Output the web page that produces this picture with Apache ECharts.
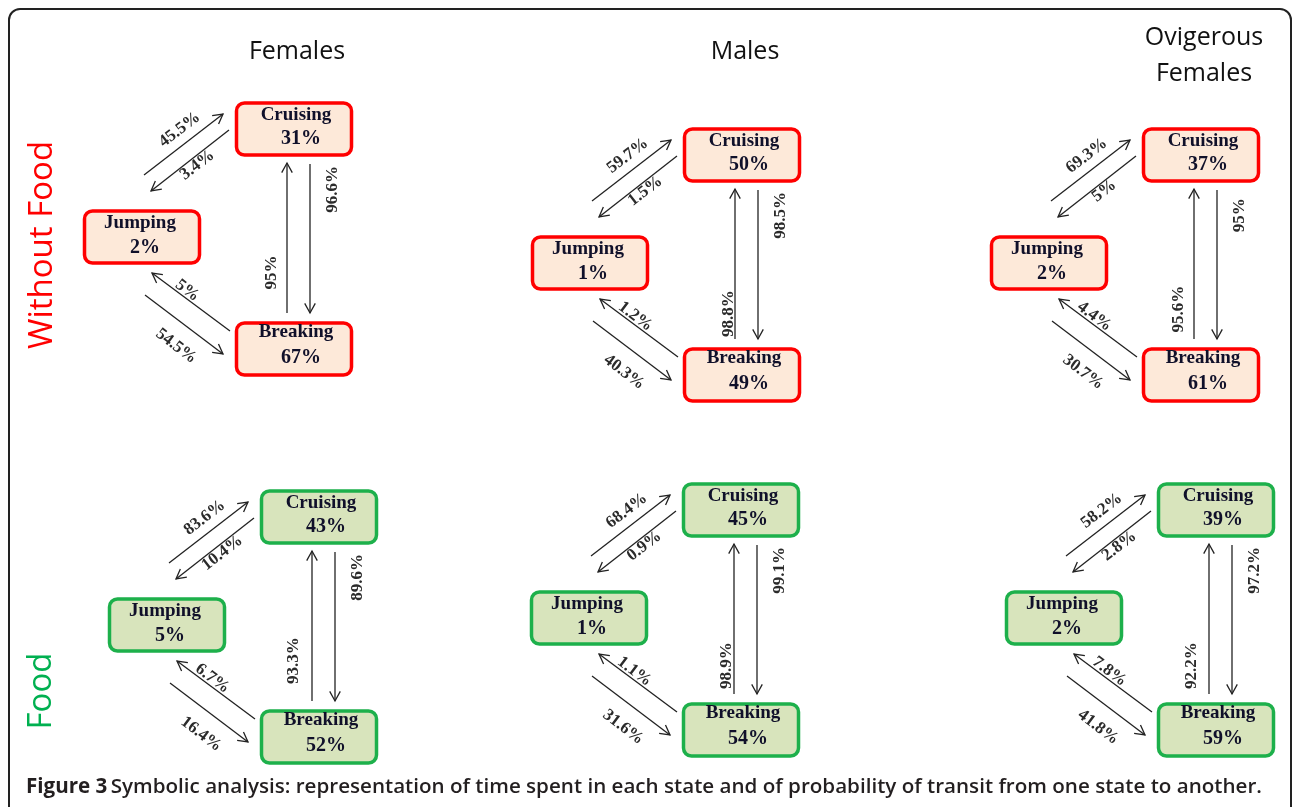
<!DOCTYPE html>
<html><head><meta charset="utf-8">
<script src="https://cdn.jsdelivr.net/npm/echarts@6/dist/echarts.min.js"></script>
<style>html,body{margin:0;padding:0;background:#fff}#c{width:1292px;height:807px}</style>
</head><body><div id="c"></div>
<script>
// ---------- data ----------
const columnTitles = ['Females', 'Males', 'Ovigerous\nFemales'];
const rowTitles = ['Without Food', 'Food'];
const stateNames = ['Cruising', 'Jumping', 'Breaking'];
// panel order: WithoutFood-Females, WithoutFood-Males, WithoutFood-Ovigerous, Food-Females, Food-Males, Food-Ovigerous
const cruisingTime = [31, 50, 37, 43, 45, 39];
const jumpingTime  = [2, 1, 2, 5, 1, 2];
const breakingTime = [67, 49, 61, 52, 54, 59];
const jumpToCruise  = [45.5, 59.7, 69.3, 83.6, 68.4, 58.2];
const cruiseToJump  = [3.4, 1.5, 5, 10.4, 0.9, 2.8];
const cruiseToBreak = [96.6, 98.5, 95, 89.6, 99.1, 97.2];
const breakToCruise = [95, 98.8, 95.6, 93.3, 98.9, 92.2];
const breakToJump   = [5, 1.2, 4.4, 6.7, 1.1, 7.8];
const jumpToBreak   = [54.5, 40.3, 30.7, 16.4, 31.6, 41.8];
const captionBold = 'Figure 3';
const captionText = 'Symbolic analysis: representation of time spent in each state and of probability of transit from one state to another.';

// ---------- layout (positions of each panel's Cruising box, chart units) ----------
const panelAnchor = [[294, 129], [742, 155], [1201, 155], [319, 517], [741, 510], [1216, 510]];
const jumpingShift = [-152, 108];
const breakingShift = [0, 220];
const upLabelOffset = [-15, -6, -15, -18, -7, -17];
const upLabelT = [0.27, 0.17, 0.2, 0.27, 0.19, 0.19];

// ---------- styles ----------
const RED = '#ff0000', RED_FILL = '#fde9d9';
const GREEN = '#1db04b', GREEN_FILL = '#d8e4bc';
const INK = '#222222';
const BOX_W = 115, BOX_H = 52;
const serif = '"Liberation Serif","Times New Roman",serif';
const sans = '"Open Sans","Noto Sans",sans-serif';

const pct = v => v + '%';

function arrowEls(p0, p1, label, t, off, rot) {
  const dx = p1[0] - p0[0], dy = p1[1] - p0[1];
  const len = Math.hypot(dx, dy);
  const ux = dx / len, uy = dy / len;
  const nx = -uy, ny = ux;
  const hl = 11, ha = 0.5;
  const ang = Math.atan2(uy, ux);
  const a1 = [p1[0] - hl * Math.cos(ang - ha), p1[1] - hl * Math.sin(ang - ha)];
  const a2 = [p1[0] - hl * Math.cos(ang + ha), p1[1] - hl * Math.sin(ang + ha)];
  const lx = p0[0] + dx * t + nx * off, ly = p0[1] + dy * t + ny * off;
  return [
    { type: 'line', shape: { x1: p0[0], y1: p0[1], x2: p1[0], y2: p1[1] },
      style: { stroke: INK, lineWidth: 1.3 } },
    { type: 'polyline', shape: { points: [a1, p1, a2] },
      style: { stroke: INK, lineWidth: 1.3, fill: null } },
    { type: 'text', x: lx, y: ly, rotation: rot,
      style: { text: label, font: 'bold 17px ' + serif, fill: '#2b2b2b',
               align: 'center', verticalAlign: 'middle' } }
  ];
}

function boxEls(c, name, value, green, nameShift, valShift) {
  return [
    { type: 'rect', shape: { x: c[0] - BOX_W / 2, y: c[1] - BOX_H / 2, width: BOX_W, height: BOX_H, r: 8 },
      style: { fill: green ? GREEN_FILL : RED_FILL, stroke: green ? GREEN : RED, lineWidth: 3.5 } },
    { type: 'text', x: c[0] + nameShift[0], y: c[1] + nameShift[1],
      style: { text: name, font: 'bold 19px ' + serif, fill: '#10102a', align: 'center', verticalAlign: 'middle' } },
    { type: 'text', x: c[0] + valShift[0], y: c[1] + valShift[1],
      style: { text: value, font: 'bold 20px ' + serif, fill: '#10102a', align: 'center', verticalAlign: 'middle' } }
  ];
}

function renderItem(params, api) {
  const i = params.dataIndex;
  const ax = api.value(0), ay = api.value(1);
  const C = api.coord([ax, ay]);
  const J = api.coord([ax + jumpingShift[0], ay + jumpingShift[1]]);
  const B = api.coord([ax + breakingShift[0], ay + breakingShift[1]]);
  const green = i >= 3;
  const up = Math.atan2(61, 79), down = -Math.atan2(59, 78);
  let ch = [];
  // Jumping <-> Cruising
  ch = ch.concat(arrowEls([J[0] + 2, J[1] - 62], [C[0] - 71, C[1] - 15], pct(jumpToCruise[i]), 0.56, -14, up));
  ch = ch.concat(arrowEls([C[0] - 65, C[1] + 1], [J[0] + 9, J[1] - 46], pct(cruiseToJump[i]), 0.47, -8, up));
  // Cruising <-> Breaking
  ch = ch.concat(arrowEls([C[0] + 16, C[1] + 35], [C[0] + 16, B[1] - 36], pct(cruiseToBreak[i]), 0.17, -23, Math.PI / 2));
  ch = ch.concat(arrowEls([C[0] - 7, B[1] - 36], [C[0] - 7, C[1] + 34], pct(breakToCruise[i]), upLabelT[i], upLabelOffset[i], Math.PI / 2));
  // Breaking <-> Jumping
  ch = ch.concat(arrowEls([B[0] - 64, B[1] - 18], [J[0] + 10, J[1] + 36], pct(breakToJump[i]), 0.6, 7, down));
  ch = ch.concat(arrowEls([J[0] + 3, J[1] + 58], [B[0] - 71, B[1] + 5], pct(jumpToBreak[i]), 0.57, 22, down));
  // boxes
  ch = ch.concat(boxEls(C, stateNames[0], pct(cruisingTime[i]), green, [2, -14], [7, 10]));
  ch = ch.concat(boxEls(J, stateNames[1], pct(jumpingTime[i]), green, [-2, -14], [3, 11]));
  ch = ch.concat(boxEls(B, stateNames[2], pct(breakingTime[i]), green, [2, -17], [7, 9]));
  return { type: 'group', children: ch };
}

const chart = echarts.init(document.getElementById('c'), null, { renderer: 'canvas' });
chart.setOption({
  animation: false,
  backgroundColor: '#ffffff',
  grid: { left: 0, right: 0, top: 0, bottom: 0 },
  xAxis: { type: 'value', min: 0, max: 1292, show: false },
  yAxis: { type: 'value', min: 0, max: 807, inverse: true, show: false },
  graphic: [
    { type: 'rect', shape: { x: 9, y: 9, width: 1282, height: 900, r: 11 },
      style: { fill: null, stroke: '#222', lineWidth: 2 }, silent: true },
    { type: 'text', x: 297, y: 52, style: { text: columnTitles[0], font: '25px ' + sans, fill: '#111', align: 'center', verticalAlign: 'middle' } },
    { type: 'text', x: 745, y: 52, style: { text: columnTitles[1], font: '25px ' + sans, fill: '#111', align: 'center', verticalAlign: 'middle' } },
    { type: 'text', x: 1204, y: 56, style: { text: columnTitles[2], font: '25px ' + sans, lineHeight: 36, fill: '#111', align: 'center', verticalAlign: 'middle' } },
    { type: 'text', x: 43, y: 245, rotation: Math.PI / 2,
      style: { text: rowTitles[0], font: '33px ' + sans, fill: RED, align: 'center', verticalAlign: 'middle' } },
    { type: 'text', x: 42, y: 691, rotation: Math.PI / 2,
      style: { text: rowTitles[1], font: '33px ' + sans, fill: '#00b050', align: 'center', verticalAlign: 'middle' } },
    { type: 'text', x: 26, y: 787,
      style: { text: '{b|' + captionBold + '} {n|' + captionText + '}', verticalAlign: 'middle', align: 'left',
        rich: { b: { font: 'bold 20.6px ' + sans, fill: '#231f20' }, n: { font: '600 20.6px ' + sans, fill: '#231f20' } } } }
  ],
  series: [{
    type: 'custom',
    coordinateSystem: 'cartesian2d',
    clip: false,
    silent: true,
    encode: { x: 0, y: 1 },
    data: panelAnchor.map((a, i) => [a[0], a[1], i]),
    renderItem: renderItem
  }]
});
</script></body></html>
